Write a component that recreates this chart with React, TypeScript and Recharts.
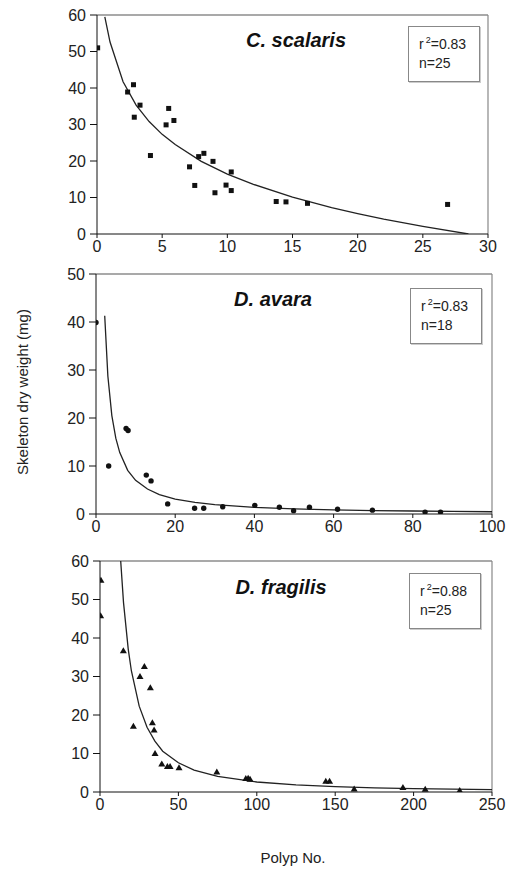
import React from 'react';
import { ComposedChart, Scatter, XAxis, YAxis, ReferenceLine } from 'recharts';

// C. scalaris
const scalarisPolyps = [0.05, 2.35, 2.8, 2.86, 3.3, 4.1, 5.3, 5.5, 5.9, 7.1, 7.5, 7.8, 8.2, 8.9, 9.05, 9.9, 10.3, 10.3, 13.75, 14.5, 16.15, 26.9];
const scalarisWeight = [51.0, 38.9, 40.9, 32.0, 35.3, 21.5, 29.9, 34.4, 31.1, 18.4, 13.3, 21.2, 22.1, 19.9, 11.3, 13.4, 11.9, 17.0, 8.9, 8.8, 8.4, 8.1];
const scalarisFitX = [0.6, 1, 2, 3, 4, 5, 6, 8, 10, 12, 15, 18, 20, 22, 25, 28.5];
const scalarisFitY = [59.5, 52.6, 41.7, 35.3, 30.8, 27.3, 24.5, 19.9, 16.4, 13.6, 10.1, 7.2, 5.6, 4.1, 2.1, 0];

// D. avara
const avaraPolyps = [0, 3.2, 7.6, 8.1, 12.7, 13.9, 18.1, 24.9, 27.2, 32.0, 40.1, 46.3, 49.9, 53.9, 61.0, 69.8, 83.1, 87.0];
const avaraWeight = [39.9, 10.0, 17.8, 17.4, 8.1, 6.9, 2.1, 1.2, 1.2, 1.5, 1.8, 1.4, 0.7, 1.4, 1.0, 0.8, 0.4, 0.4];
const avaraFitX = [2.2, 3, 4, 5, 6, 8, 10, 13, 16, 20, 25, 30, 40, 50, 60, 70, 80, 90, 100];
const avaraFitY = [41.3, 28.7, 20.5, 15.8, 12.8, 9.1, 7.0, 5.2, 4.05, 3.1, 2.4, 1.94, 1.39, 1.07, 0.86, 0.72, 0.62, 0.54, 0.47];

// D. fragilis
const fragilisPolyps = [0.6, 0.4, 14.9, 21.3, 25.5, 28.3, 32.1, 33.4, 34.5, 35.1, 39.4, 43.0, 44.7, 50.4, 74.5, 93.0, 94.5, 95.7, 144.0, 146.4, 162.1, 193.2, 207.4, 229.4];
const fragilisWeight = [55.0, 45.8, 36.7, 17.1, 30.0, 32.6, 27.1, 18.0, 16.1, 10.0, 7.3, 6.6, 6.6, 6.3, 5.2, 3.5, 3.6, 3.3, 2.8, 2.8, 0.8, 1.2, 0.7, 0.4];
const fragilisFitX = [13.2, 15, 18, 20, 25, 30, 35, 40, 50, 60, 75, 100, 125, 150, 175, 200, 225, 250];
const fragilisFitY = [60, 49.2, 37.1, 31.5, 22.3, 16.8, 13.2, 10.6, 7.6, 5.7, 4.06, 2.6, 1.84, 1.39, 1.09, 0.89, 0.74, 0.63];

const scalarisXTicks = [0, 5, 10, 15, 20, 25, 30];
const scalarisYTicks = [0, 10, 20, 30, 40, 50, 60];
const avaraXTicks = [0, 20, 40, 60, 80, 100];
const avaraYTicks = [0, 10, 20, 30, 40, 50];
const fragilisXTicks = [0, 50, 100, 150, 200, 250];
const fragilisYTicks = [0, 10, 20, 30, 40, 50, 60];

const zip = (xs: number[], ys: number[]) => xs.map((x, i) => ({ x, y: ys[i] }));

const FONT = '"Liberation Sans", Arial, sans-serif';

const SquareShape = (p: any) => <rect x={p.cx - 2.5} y={p.cy - 2.5} width={5} height={5} fill="#111" />;
const CircleShape = (p: any) => <circle cx={p.cx} cy={p.cy} r={2.7} fill="#111" />;
const TriangleShape = (p: any) => (
  <polygon points={`${p.cx},${p.cy - 3.5} ${p.cx + 3.5},${p.cy + 2.5} ${p.cx - 3.5},${p.cy + 2.5}`} fill="#111" />
);
const NoShape = () => <g />;

type PanelProps = {
  top: number;
  height: number;
  margin: { top: number; right: number; bottom: number; left: number };
  points: { x: number; y: number }[];
  fit: { x: number; y: number }[];
  xTicks: number[];
  yTicks: number[];
  shape: any;
};

const tickStyle = { fill: '#222', fontSize: 16, fontFamily: FONT };

function Panel({ top, height, margin, points, fit, xTicks, yTicks, shape }: PanelProps) {
  const xMax = xTicks[xTicks.length - 1];
  const yMax = yTicks[yTicks.length - 1];
  return (
    <div style={{ position: 'absolute', left: 0, top }}>
      <ComposedChart width={516} height={height} margin={margin}>
        <XAxis
          type="number"
          dataKey="x"
          domain={[0, xMax]}
          ticks={xTicks}
          allowDataOverflow
          stroke="#111"
          tickSize={4}
          tickMargin={3}
          height={30}
          tick={tickStyle}
        />
        <YAxis
          type="number"
          dataKey="y"
          domain={[0, yMax]}
          ticks={yTicks}
          allowDataOverflow
          stroke="#111"
          tickSize={7}
          tickMargin={4}
          width={50}
          tick={tickStyle}
        />
        <ReferenceLine y={yMax} stroke="#555" strokeWidth={1.2} />
        <ReferenceLine x={xMax} stroke="#888" strokeWidth={1.2} />
        <Scatter data={fit} line={{ stroke: '#222', strokeWidth: 1.3 }} lineType="joint" shape={NoShape} isAnimationActive={false} />
        <Scatter data={points} shape={shape} isAnimationActive={false} />
      </ComposedChart>
    </div>
  );
}

const titleStyle = (cx: number, cy: number): React.CSSProperties => ({
  position: 'absolute',
  left: cx - 100,
  top: cy - 12,
  width: 200,
  textAlign: 'center',
  fontFamily: FONT,
  fontWeight: 'bold',
  fontStyle: 'italic',
  fontSize: 20,
  lineHeight: '24px',
  color: '#111',
});

const boxStyle = (left: number, top: number): React.CSSProperties => ({
  position: 'absolute',
  left,
  top,
  width: 72,
  height: 56,
  border: '1.5px solid #888',
  boxShadow: '1px 1px 0 #ccc',
  background: '#fff',
  fontFamily: FONT,
  fontSize: 14,
  color: '#222',
  padding: '8px 0 0 10px',
  boxSizing: 'border-box',
  lineHeight: '19px',
});

function StatBox({ left, top, r2, n }: { left: number; top: number; r2: string; n: string }) {
  return (
    <div style={boxStyle(left, top)}>
      <div>
        r<sup style={{ fontSize: 9, verticalAlign: 'top', lineHeight: '10px', marginLeft: 2 }}>2</sup>={r2}
      </div>
      <div>n={n}</div>
    </div>
  );
}

export default function App() {
  return (
    <div style={{ position: 'absolute', left: 0, top: 0, width: 516, height: 870, background: '#fff' }}>
      <Panel
        top={0}
        height={270}
        margin={{ top: 15, right: 28, bottom: 6, left: 47 }}
        points={zip(scalarisPolyps, scalarisWeight)}
        fit={zip(scalarisFitX, scalarisFitY)}
        xTicks={scalarisXTicks}
        yTicks={scalarisYTicks}
        shape={SquareShape}
      />
      <Panel
        top={250}
        height={300}
        margin={{ top: 24, right: 24, bottom: 6, left: 46 }}
        points={zip(avaraPolyps, avaraWeight)}
        fit={zip(avaraFitX, avaraFitY)}
        xTicks={avaraXTicks}
        yTicks={avaraYTicks}
        shape={CircleShape}
      />
      <Panel
        top={540}
        height={290}
        margin={{ top: 21, right: 24, bottom: 8, left: 50 }}
        points={zip(fragilisPolyps, fragilisWeight)}
        fit={zip(fragilisFitX, fragilisFitY)}
        xTicks={fragilisXTicks}
        yTicks={fragilisYTicks}
        shape={TriangleShape}
      />
      <div style={titleStyle(296, 40)}>C. scalaris</div>
      <div style={titleStyle(273, 299)}>D. avara</div>
      <div style={titleStyle(281, 587)}>D. fragilis</div>
      <StatBox left={408} top={26} r2="0.83" n="25" />
      <StatBox left={410} top={288} r2="0.83" n="18" />
      <StatBox left={409} top={573} r2="0.88" n="25" />
      <div
        style={{
          position: 'absolute',
          left: 23 - 120,
          top: 392 - 10,
          width: 240,
          height: 20,
          lineHeight: '20px',
          textAlign: 'center',
          transform: 'rotate(-90deg)',
          fontFamily: FONT,
          fontSize: 15,
          color: '#222',
          whiteSpace: 'nowrap',
        }}
      >
        Skeleton dry weight (mg)
      </div>
      <div
        style={{
          position: 'absolute',
          left: 293 - 100,
          top: 848,
          width: 200,
          textAlign: 'center',
          fontFamily: FONT,
          fontSize: 15,
          lineHeight: '20px',
          color: '#222',
        }}
      >
        Polyp No.
      </div>
    </div>
  );
}
